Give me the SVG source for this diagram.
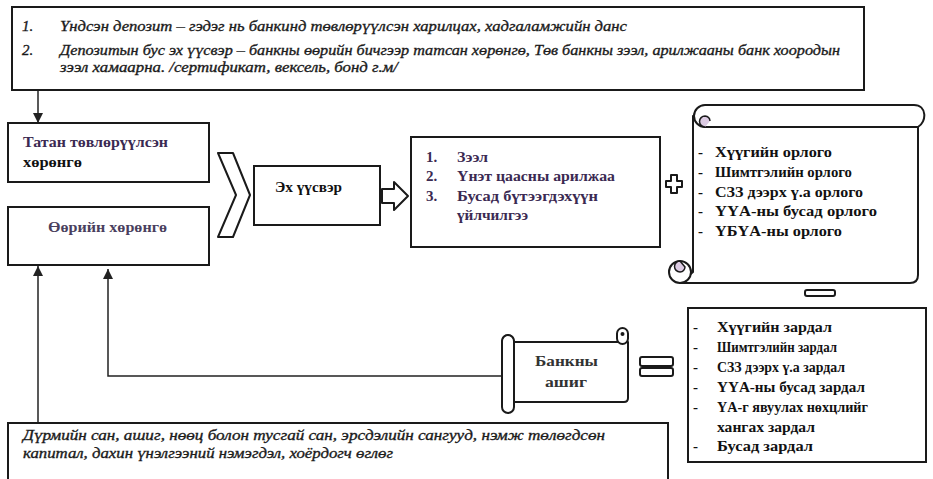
<svg xmlns="http://www.w3.org/2000/svg" width="933" height="479" viewBox="0 0 933 479">
<style>
.box{fill:#fff;stroke:#1a1a1a;stroke-width:2}
.shape{fill:#fff;stroke:#1a1a1a;stroke-width:2;stroke-linejoin:round}
.line{fill:none;stroke:#1a1a1a;stroke-width:2}
.curl{fill:#dccbe3;stroke:#1a1a1a;stroke-width:1.5}
.it{font-family:"Liberation Serif","DejaVu Serif",serif;font-style:italic;font-size:15px;fill:#1a1a1a;stroke:#1a1a1a;stroke-width:0.35}
.b{font-family:"Liberation Serif","DejaVu Serif",serif;font-weight:bold;font-size:15px;fill:#111}
.p{fill:#3b2a52}
.conn{fill:none;stroke:#222;stroke-width:1.5}
</style>
<defs>
<marker id="ah" viewBox="0 0 10 10" refX="10" refY="5" markerWidth="10" markerHeight="12" markerUnits="userSpaceOnUse" orient="auto">
<path d="M0,0 L10,5 L0,10 z" fill="#222"/>
</marker>
</defs>

<g id="connectors">
<line class="conn" x1="38" y1="90" x2="38" y2="123" marker-end="url(#ah)"/>
<line class="conn" x1="38" y1="423" x2="38" y2="266" marker-end="url(#ah)"/>
<polyline class="conn" points="502,376 108,376 108,269" marker-end="url(#ah)"/>
</g>

<g id="top-note">
<rect class="box" x="12" y="7" width="852" height="83"/>
<text class="it" x="22" y="31">1.</text>
<text class="it" x="60" y="31" textLength="567" lengthAdjust="spacingAndGlyphs">Үндсэн депозит – гэдэг нь банкинд төвлөрүүлсэн харилцах, хадгаламжийн данс</text>
<text class="it" x="22" y="55">2.</text>
<text class="it" x="60" y="55" textLength="780" lengthAdjust="spacingAndGlyphs">Депозитын бус эх үүсвэр – банкны өөрийн бичгээр татсан хөрөнгө, Төв банкны зээл, арилжааны банк хоородын</text>
<text class="it" x="60" y="72" textLength="338" lengthAdjust="spacingAndGlyphs">зээл хамаарна. /сертификат, вексель, бонд г.м/</text>
</g>

<g id="attracted-assets">
<rect class="box" x="8" y="123" width="201" height="59"/>
<text class="b p" x="23" y="147" textLength="145" lengthAdjust="spacingAndGlyphs">Татан төвлөрүүлсэн</text>
<text class="b" x="23" y="167" textLength="59" lengthAdjust="spacingAndGlyphs">хөрөнгө</text>
</g>

<g id="own-assets">
<rect class="box" x="8" y="207" width="201" height="58"/>
<text class="b" x="48" y="232" textLength="119" lengthAdjust="spacingAndGlyphs" style="fill:#4a3f5e">Өөрийн хөрөнгө</text>
</g>

<g id="chevron">
<polygon class="shape" points="218,153 233,153 250,195 233,237 218,237 236,195"/>
</g>

<g id="source">
<rect class="box" x="254" y="166" width="126" height="59"/>
<text class="b" x="275" y="192" textLength="67" lengthAdjust="spacingAndGlyphs">Эх үүсвэр</text>
</g>

<g id="block-arrow">
<polygon class="shape" points="382,189 394,189 394,182 408,196 394,210 394,203 382,203"/>
</g>

<g id="source-list">
<rect class="box" x="411" y="137" width="249" height="110"/>
<text class="b p" x="426" y="162">1.</text>
<text class="b p" x="457" y="162" textLength="31" lengthAdjust="spacingAndGlyphs">Зээл</text>
<text class="b p" x="426" y="181">2.</text>
<text class="b p" x="457" y="181" textLength="158" lengthAdjust="spacingAndGlyphs">Үнэт цаасны арилжаа</text>
<text class="b p" x="426" y="201">3.</text>
<text class="b p" x="457" y="201" textLength="141" lengthAdjust="spacingAndGlyphs">Бусад бүтээгдэхүүн</text>
<text class="b p" x="457" y="220" textLength="71" lengthAdjust="spacingAndGlyphs">үйлчилгээ</text>
</g>

<g id="plus">
<polygon class="shape" points="671,175 677,175 677,181 682,181 682,187 677,187 677,193 671,193 671,187 666,187 666,181 671,181"/>
</g>

<g id="income-scroll">
<path class="shape" d="M693,116 L693,272 L680,283 L910,283 Q918,283 918,275 L918,127 L705,127 Z"/>
<path class="shape" d="M705,105 L914,105 C927,105 927,122 918,127 L705,127 A11,11 0 0 1 705,105 Z"/>
<path class="curl" d="M705,127 A5.5,5.5 0 0 1 705,116 A5.5,5.5 0 0 1 710,121"/>
<line class="line" x1="693" y1="116" x2="693" y2="272"/>
<circle class="shape" cx="680" cy="272" r="11"/>
<path class="curl" d="M680,261 A5.5,5.5 0 0 0 680,272 A5.5,5.5 0 0 0 685,267 Z"/>
<line class="line" x1="680" y1="283" x2="693" y2="283"/>
<text class="b" x="698" y="157">-</text>
<text class="b" x="715" y="157" textLength="117" lengthAdjust="spacingAndGlyphs">Хүүгийн орлого</text>
<text class="b" x="698" y="177">-</text>
<text class="b" x="715" y="177" textLength="137" lengthAdjust="spacingAndGlyphs">Шимтгэлийн орлого</text>
<text class="b" x="698" y="197">-</text>
<text class="b" x="715" y="197" textLength="148" lengthAdjust="spacingAndGlyphs">СЗЗ дээрх ү.а орлого</text>
<text class="b" x="698" y="216">-</text>
<text class="b" x="715" y="216" textLength="162" lengthAdjust="spacingAndGlyphs">ҮҮА-ны бусад орлого</text>
<text class="b" x="698" y="236">-</text>
<text class="b" x="715" y="236" textLength="127" lengthAdjust="spacingAndGlyphs">ҮБҮА-ны орлого</text>
</g>

<g id="minus">
<rect class="shape" x="805" y="290" width="30" height="6" rx="2"/>
</g>

<g id="expense-list">
<rect class="box" x="688" y="308" width="238" height="154"/>
<text class="b" x="693" y="332">-</text>
<text class="b" x="717" y="332" textLength="115" lengthAdjust="spacingAndGlyphs">Хүүгийн зардал</text>
<text class="b" x="693" y="352">-</text>
<text class="b" x="717" y="352" textLength="120" lengthAdjust="spacingAndGlyphs">Шимтгэлийн зардал</text>
<text class="b" x="693" y="372">-</text>
<text class="b" x="717" y="372" textLength="128" lengthAdjust="spacingAndGlyphs">СЗЗ дээрх ү.а зардал</text>
<text class="b" x="693" y="392">-</text>
<text class="b" x="717" y="392" textLength="148" lengthAdjust="spacingAndGlyphs">ҮҮА-ны бусад зардал</text>
<text class="b" x="693" y="412">-</text>
<text class="b" x="717" y="412" textLength="151" lengthAdjust="spacingAndGlyphs">ҮА-г явуулах нөхцлийг</text>
<text class="b" x="717" y="432" textLength="98" lengthAdjust="spacingAndGlyphs">хангах зардал</text>
<text class="b" x="693" y="451">-</text>
<text class="b" x="717" y="451" textLength="96" lengthAdjust="spacingAndGlyphs">Бусад зардал</text>
</g>

<g id="equals">
<rect class="shape" x="640" y="357" width="33" height="9" rx="2"/>
<rect class="shape" x="640" y="368" width="33" height="8" rx="2"/>
</g>

<g id="bank-profit">
<path class="shape" d="M508,342 L628,342 L628,398 Q628,402 624,402 L508,402 Z"/>
<rect class="shape" x="617" y="328" width="11" height="16" rx="5.5"/>
<circle cx="622.5" cy="334" r="2" fill="#1a1a1a"/>
<rect class="shape" x="502" y="335" width="12" height="78" rx="6"/>
<path class="line" d="M502,341 A6,6 0 0 1 514,341" style="stroke-width:1.5"/>
<text class="b" x="535" y="366" textLength="63" lengthAdjust="spacingAndGlyphs" style="fill:#333;font-size:14px">Банкны</text>
<text class="b" x="545" y="387" textLength="42" lengthAdjust="spacingAndGlyphs" style="fill:#333;font-size:14px">ашиг</text>
</g>

<g id="bottom-note">
<rect class="box" x="8" y="423" width="660" height="62"/>
<text class="it" x="23" y="440" textLength="582" lengthAdjust="spacingAndGlyphs">Дүрмийн сан, ашиг, нөөц болон тусгай сан, эрсдэлийн сангууд, нэмж төлөгдсөн</text>
<text class="it" x="23" y="458" textLength="370" lengthAdjust="spacingAndGlyphs">капитал, дахин үнэлгээний нэмэгдэл, хоёрдогч өглөг</text>
</g>
</svg>
